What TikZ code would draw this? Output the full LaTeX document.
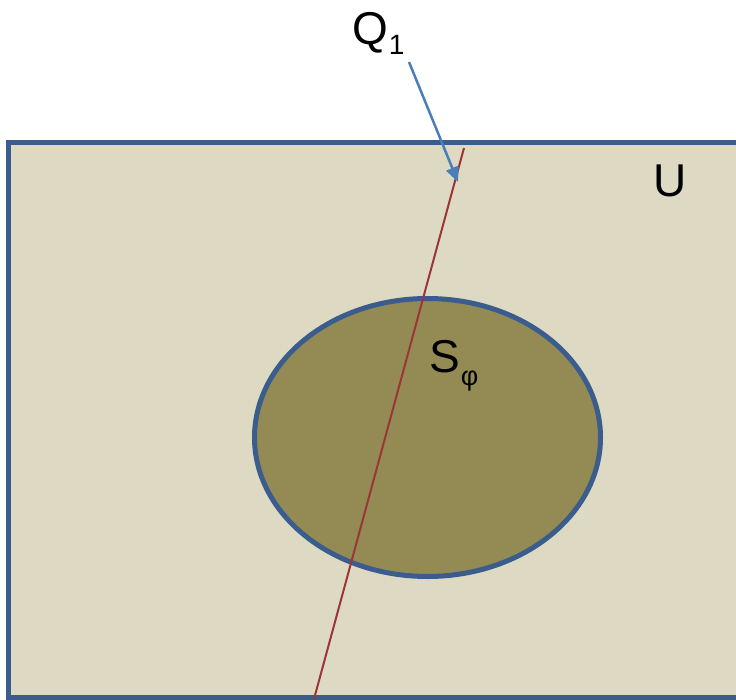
\documentclass[tikz,border=0pt]{standalone}
\usepackage{fontspec}
\setmainfont{Liberation Sans}
\usetikzlibrary{arrows.meta}
\definecolor{bgbeige}{HTML}{DDD9C3}
\definecolor{setolive}{HTML}{948A54}
\definecolor{edgeblue}{HTML}{3A5D8D}
\definecolor{lineRed}{HTML}{9B3537}
\definecolor{arrowblue}{HTML}{4A7EBB}
\tikzset{
  setedge/.style={draw=edgeblue, line width=5pt},
  lbl/.style={inner sep=0pt, font=\fontsize{46}{50}\selectfont},
  pointer/.style={draw=arrowblue, line width=2.5pt, -{Triangle[length=15pt,width=13pt]}},
}
\begin{document}
\begin{tikzpicture}[x=1pt,y=-1pt]
\useasboundingbox (0,0) rectangle (736,700);
\clip (0,0) rectangle (736,700);
\path[setedge, fill=bgbeige] (8.5,143) rectangle (780,697);
\path[setedge, fill=setolive] (427.5,437.5) ellipse [x radius=173, y radius=139];
\coordinate (lt) at (464,148);
\coordinate (lb) at (314,699);
\draw[lineRed, line width=2pt] (lt) -- (lb);
\node[lbl, anchor=base west] (q) at (352,45) {Q\hspace{1pt}\raisebox{-10pt}{\fontsize{28}{30}\selectfont 1}};
\coordinate (qs) at (409,62);
\coordinate (qt) at (458,182);
\draw[pointer] (qs) -- (qt);
\node[lbl, anchor=base west] (u) at (653,197) {U};
\node[lbl, anchor=base west] (s) at (429,373) {S\hspace{1pt}\raisebox{-13pt}{\fontsize{27}{30}\selectfont φ}};
\end{tikzpicture}
\end{document}
